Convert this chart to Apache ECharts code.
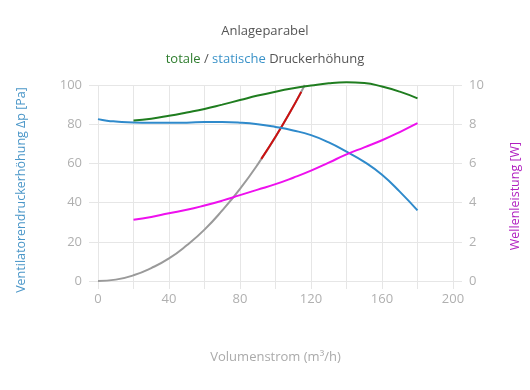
<!DOCTYPE html>
<html><head><meta charset="utf-8">
<script src="https://cdn.jsdelivr.net/npm/echarts@6/dist/echarts.min.js"></script>
<style>html,body{margin:0;padding:0;background:#fff}#c{width:530px;height:390px}</style>
</head><body><div id="c"></div>
<script>
// x values in m³/h
const staticX = [0,5,10,20,30,40,50,60,70,80,90,100,110,120,130,140,150,160,170,180];
const staticY = [82.6,81.8,81.4,80.9,80.8,80.8,80.8,81.1,81.1,80.8,80.0,78.6,76.8,74.4,70.7,66.0,60.8,54.2,45.6,36.0];
const totalX = [20,30,40,50,60,70,80,90,100,110,120,130,140,150,160,170,180];
const totalY = [81.9,82.8,84.3,86.0,87.8,90.0,92.3,94.6,96.6,98.3,99.7,100.9,101.4,101.0,99.2,96.6,93.2];
const powerX = [20,30,40,50,60,70,80,90,100,110,120,130,140,150,160,170,180];
const powerY = [3.12,3.27,3.46,3.63,3.85,4.10,4.38,4.66,4.94,5.27,5.63,6.04,6.46,6.82,7.18,7.60,8.05];
const systemX = [0,10,20,30,40,50,60,70,80,90,100,110,116.5];
const systemY = [0,0.7,2.9,6.6,11.5,18.2,26.2,36.0,47.0,59.5,73.5,89.0,100];
const opX = [92,100,108,114.5];
const opY = [62.3,73.6,85.8,96.5];
const xTicks = {min:0, max:200, step:20, labelEvery:40};
const leftTicks = {min:0, max:100, step:20};
const rightTicks = {min:0, max:10, step:2};

const pairs = (xs, ys) => xs.map((x,i)=>[x, ys[i]]);
const gridColor = '#e6e6e6';
const labelColor = '#b0b0b0';
const font = 'Open Sans';

const chart = echarts.init(document.getElementById('c'), null, {renderer:'canvas'});
chart.setOption({
  animation:false,
  textStyle:{fontFamily:font},
  title:[
    {text:'Anlageparabel', left:'center', top:20, textStyle:{fontSize:13, fontWeight:'normal', color:'#555', fontFamily:font}},
    {text:'{g|totale} {d|/} {b|statische} {d|Druckerhöhung}', left:'center', top:48,
     textStyle:{fontSize:13, fontWeight:'normal', fontFamily:font, rich:{
       g:{color:'#2e7d2e', fontSize:13, fontFamily:font},
       b:{color:'#3a92c8', fontSize:13, fontFamily:font},
       d:{color:'#555', fontSize:13, fontFamily:font}}}}
  ],
  grid:{left:98, right:77, top:85, bottom:109, containLabel:false},
  xAxis:{type:'value', min:xTicks.min, max:xTicks.max, interval:xTicks.step,
    name:'Volumenstrom (m³/h)', nameLocation:'middle', nameGap:70,
    nameTextStyle:{color:'#aaa', fontSize:13, fontFamily:font},
    axisLine:{show:false},
    axisTick:{show:true, length:8, lineStyle:{color:gridColor}},
    axisLabel:{color:labelColor, fontSize:13, margin:12, formatter:v => (v % xTicks.labelEvery === 0 ? String(v) : '')},
    splitLine:{show:true, lineStyle:{color:gridColor}}},
  yAxis:[
    {type:'value', min:leftTicks.min, max:leftTicks.max, interval:leftTicks.step, position:'left',
     name:'Ventilatorendruckerhöhung Δp [Pa]', nameLocation:'middle', nameGap:70, nameRotate:90,
     nameTextStyle:{color:'#4a96c8', fontSize:12.5, fontFamily:font, padding:[0,14,0,0]},
     axisLine:{show:false},
     axisTick:{show:true, length:9, lineStyle:{color:gridColor}},
     axisLabel:{color:labelColor, fontSize:13, margin:16},
     splitLine:{show:true, lineStyle:{color:gridColor}}},
    {type:'value', min:rightTicks.min, max:rightTicks.max, interval:rightTicks.step, position:'right',
     name:'Wellenleistung [W]', nameLocation:'middle', nameGap:56, nameRotate:90,
     nameTextStyle:{color:'#b020c0', fontSize:12.5, fontFamily:font, padding:[0,26,0,0]},
     axisLine:{show:false},
     axisTick:{show:true, length:9, lineStyle:{color:gridColor}},
     axisLabel:{color:labelColor, fontSize:13, margin:16},
     splitLine:{show:false}}
  ],
  series:[
    {name:'Anlage', type:'line', data:pairs(systemX, systemY), smooth:true, showSymbol:false, clip:false,
     lineStyle:{color:'#9a9a9a', width:2}, z:2},
    {name:'Betrieb', type:'line', data:pairs(opX, opY), smooth:true, showSymbol:false, clip:false,
     lineStyle:{color:'#cc1111', width:2}, z:3},
    {name:'statisch', type:'line', data:pairs(staticX, staticY), smooth:true, showSymbol:false, clip:false,
     lineStyle:{color:'#2f8acb', width:2}, z:4},
    {name:'total', type:'line', data:pairs(totalX, totalY), smooth:true, showSymbol:false, clip:false,
     lineStyle:{color:'#1f7d1f', width:2}, z:4},
    {name:'Leistung', type:'line', yAxisIndex:1, data:pairs(powerX, powerY), smooth:true, showSymbol:false, clip:false,
     lineStyle:{color:'#ee10ee', width:2}, z:4}
  ]
});
</script></body></html>
